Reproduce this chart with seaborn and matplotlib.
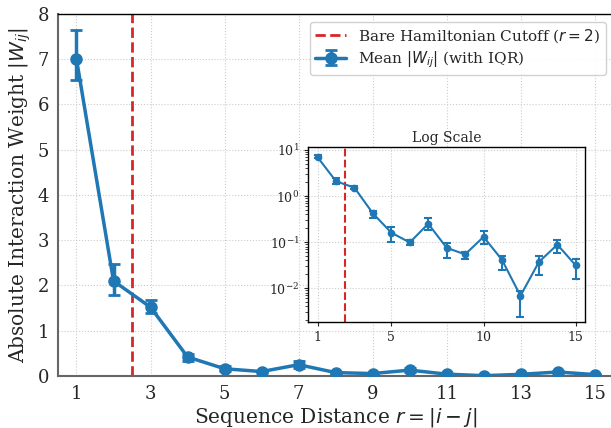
import numpy as np
import matplotlib
matplotlib.use("Agg")
import matplotlib.pyplot as plt
import seaborn as sns

# Sequence distance r = |i - j|
distance = [1, 2, 3, 4, 5, 6, 7, 8, 9, 10, 11, 12, 13, 14, 15]
# Mean |W_ij| and interquartile range per distance
mean_w = [7.0, 2.1, 1.52, 0.42, 0.16, 0.098, 0.25, 0.075, 0.054, 0.13, 0.041, 0.0068, 0.037, 0.088, 0.031]
q25_w = [6.55, 1.8, 1.4, 0.33, 0.10, 0.085, 0.18, 0.046, 0.042, 0.09, 0.025, 0.0024, 0.019, 0.058, 0.016]
q75_w = [7.65, 2.48, 1.68, 0.48, 0.21, 0.11, 0.33, 0.095, 0.062, 0.17, 0.05, 0.0088, 0.05, 0.11, 0.043]
cutoff = 2.5
main_xticks = [1, 3, 5, 7, 9, 11, 13, 15]
inset_xticks = [1, 5, 10, 15]

BLUE = "#1f77b4"
RED = "#d62728"

sns.set_style("whitegrid", {"grid.linestyle": ":", "grid.color": "#d0d0d0"})
plt.rcParams["font.family"] = ["DejaVu Serif"]
plt.rcParams["mathtext.fontset"] = "dejavusans"

yerr = np.array([np.array(mean_w) - np.array(q25_w), np.array(q75_w) - np.array(mean_w)])

fig = plt.figure(figsize=(6.11, 4.28), dpi=100)
ax = fig.add_axes([0.0949, 0.1215, 0.909, 0.8458])

ax.axvline(cutoff, color=RED, linestyle="--", linewidth=2, label=r"Bare Hamiltonian Cutoff ($r=2$)", zorder=2)
ax.errorbar(distance, mean_w, yerr=yerr, color=BLUE, marker="o", markersize=8,
            linewidth=2.5, elinewidth=2.5, capsize=4, capthick=2,
            label=r"Mean $|W_{ij}|$ (with IQR)", zorder=3)

ax.set_xlim(0.5, 15.5)
ax.set_ylim(0, 8)
ax.set_xticks(main_xticks)
ax.set_yticks(range(0, 9))
ax.tick_params(labelsize=13, length=3, color="#666666")
ax.set_xlabel(r"Sequence Distance $r = |i - j|$", fontsize=14.5, labelpad=2)
ax.set_ylabel(r"Absolute Interaction Weight $|W_{ij}|$", fontsize=14.5, labelpad=3)
ax.grid(True, linestyle=":", color="#cccccc", linewidth=0.8)
for side in ["left", "bottom"]:
    ax.spines[side].set_color("#666666")
    ax.spines[side].set_linewidth(1.5)
ax.spines["top"].set_color("black")
ax.spines["top"].set_linewidth(1.0)
ax.spines["right"].set_visible(False)
ax.legend(loc="upper right", fontsize=11, frameon=True, fancybox=True, framealpha=0.9,
          edgecolor="#cccccc", labelspacing=0.3, borderpad=0.35)

# Log scale inset
axin = fig.add_axes([0.5046, 0.2484, 0.4529, 0.4075])
axin.axvline(cutoff, color=RED, linestyle="--", linewidth=1.5, zorder=2)
axin.errorbar(distance, mean_w, yerr=yerr, color=BLUE, marker="o", markersize=4.5,
              linewidth=1.5, elinewidth=1.5, capsize=3, capthick=1.5, zorder=3)
axin.set_yscale("log")
axin.set_xlim(0.5, 15.5)
axin.set_ylim(10 ** -2.73, 10 ** 1.06)
axin.set_xticks(inset_xticks)
axin.set_title("Log Scale", fontsize=10, pad=4)
axin.tick_params(labelsize=9, length=3, which="major", left=True, bottom=True)
axin.tick_params(which="minor", length=2, left=True)
axin.grid(True, linestyle=":", color="#cccccc", linewidth=0.8)
axin.set_facecolor("white")
for side in axin.spines.values():
    side.set_visible(True)
    side.set_color("black")
    side.set_linewidth(1.0)

fig.savefig("out.png", dpi=100)
